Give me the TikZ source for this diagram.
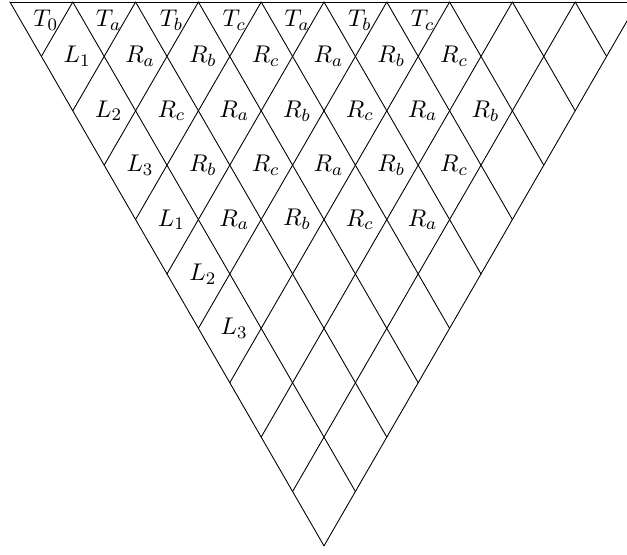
\documentclass[tikz,border=0pt]{standalone}
\usetikzlibrary{calc}
\tikzset{
  every picture/.style={line width=0.4pt},
  grid/.style={draw=black, line cap=round},
  cell/.style={inner sep=0pt, xshift=0.7mm, font=\fontsize{10.8}{13}\selectfont},
}
\begin{document}
\begin{tikzpicture}
  \clip (-0.159,0.032) rectangle (9.825,-8.79);
  \useasboundingbox (-0.159,0.032) rectangle (9.825,-8.79);
  \coordinate (ap) at (5,{-5*sqrt(3)});
  \foreach \i in {0,...,10}
    \coordinate (t\i) at (\i,0);
  \foreach \i in {0,...,10} {
    \coordinate (l\i) at ($(t0)!\i/10!(ap)$);
    \coordinate (r\i) at ($(ap)!\i/10!(t10)$);
  }
  \draw[grid] (t0) -- (t10);
  \foreach \i in {0,...,10} {
    \draw[grid] (t\i) -- (l\i);
    \draw[grid] (t\i) -- (r\i);
  }
  % top triangles
  \foreach[count=\j] \t in {T_0,T_a,T_b,T_c,T_a,T_b,T_c}
    \node[cell] (top\j) at ({\j-0.5},{-sqrt(3)/6}) {$\t$};
  % diamonds, row by row
  \foreach[count=\k] \row in {{L_1,R_a,R_b,R_c,R_a,R_b,R_c},
      {L_2,R_c,R_a,R_b,R_c,R_a,R_b}, {L_3,R_b,R_c,R_a,R_b,R_c},
      {L_1,R_a,R_b,R_c,R_a}, {L_2}, {L_3}}
    \foreach[count=\j] \t in \row
      \node[cell] (d\k-\j) at ({(\k+1)/2+\j-1},{-\k*sqrt(3)/2}) {$\t$};
\end{tikzpicture}
\end{document}
